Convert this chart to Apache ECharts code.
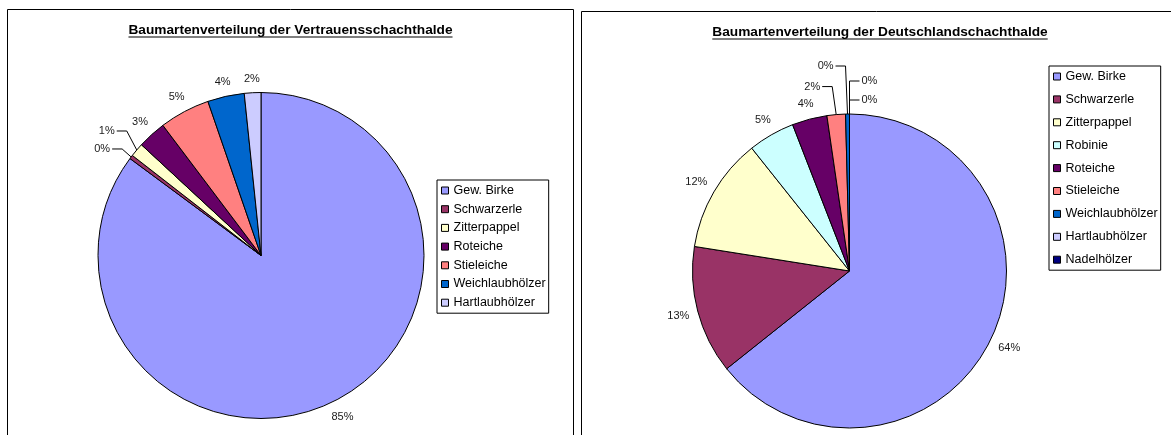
<!DOCTYPE html>
<html>
<head>
<meta charset="utf-8">
<script src="https://cdn.jsdelivr.net/npm/echarts@6/dist/echarts.min.js"></script>
<style>
  html, body { margin: 0; padding: 0; background: #fff; }
  #chart { width: 1171px; height: 435px; }
</style>
</head>
<body>
<div id="chart"></div>
<script>
// data (shares in %)
const leftTitle = 'Baumartenverteilung der Vertrauensschachthalde';
const leftNames = ['Gew. Birke', 'Schwarzerle', 'Zitterpappel', 'Roteiche', 'Stieleiche', 'Weichlaubhölzer', 'Hartlaubhölzer'];
const leftValues = [85.14, 0.38, 1.37, 2.83, 5.0, 3.64, 1.64];

const rightTitle = 'Baumartenverteilung der Deutschlandschachthalde';
const rightNames = ['Gew. Birke', 'Schwarzerle', 'Zitterpappel', 'Robinie', 'Roteiche', 'Stieleiche', 'Weichlaubhölzer', 'Hartlaubhölzer', 'Nadelhölzer'];
const rightValues = [64.3, 13.2, 11.8, 4.8, 3.6, 1.9, 0.4, 0, 0];

// excel 2003 palette
const speciesColors = {
  'Gew. Birke': '#9999FF',
  'Schwarzerle': '#993366',
  'Zitterpappel': '#FFFFCC',
  'Robinie': '#CCFFFF',
  'Roteiche': '#660066',
  'Stieleiche': '#FF8080',
  'Weichlaubhölzer': '#0066CC',
  'Hartlaubhölzer': '#CCCCFF',
  'Nadelhölzer': '#000080'
};

const FONT = 'Liberation Sans, Arial, sans-serif';

// labels that excel had pulled away with a leader line: index -> [dx, dy, side]
const leftPulls = { 1: [-9, -8, 'left'], 2: [-10, -19, 'left'] };
const rightPulls = { 5: [-4, -28, 'left'], 6: [-2, -48, 'left'], 7: [0, -33, 'right'], 8: [0, -14, 'right'] };

const leftPie = { cx: 261, cy: 255.5, r: 163 };
const rightPie = { cx: 849.5, cy: 271, r: 157 };

function makeLabelLayout(values, pie, pulls) {
  const total = values.reduce((a, b) => a + b, 0);
  return function (params) {
    const i = params.dataIndex;
    let before = 0;
    for (let k = 0; k < i; k++) before += values[k];
    const theta = 2 * Math.PI * (before + values[i] / 2) / total;
    const s = Math.sin(theta), c = Math.cos(theta);
    const ax = pie.cx + pie.r * s, ay = pie.cy - pie.r * c;
    const pull = pulls[i];
    if (pull) {
      const ex = ax + pull[0], ey = ay + pull[1];
      const dir = pull[2] === 'left' ? -1 : 1;
      const hx = ex + dir * 10;
      return {
        x: hx + dir * 2, y: ey,
        align: dir < 0 ? 'right' : 'left', verticalAlign: 'middle',
        labelLinePoints: [[ax, ay], [ex, ey], [hx, ey]]
      };
    }
    const w = params.labelRect.width, h = params.labelRect.height;
    const d = pie.r + 8 + Math.abs(s) * w / 2 + Math.abs(c) * h / 2;
    return { x: pie.cx + d * s, y: pie.cy - d * c, align: 'center', verticalAlign: 'middle' };
  };
}

function buildData(names, values, pulls) {
  return names.map((n, i) => ({
    name: n,
    value: values[i],
    itemStyle: { color: speciesColors[n] },
    labelLine: { show: !!pulls[i] }
  }));
}

function pieSeries(names, values, pie, pulls) {
  return {
    type: 'pie',
    center: [pie.cx, pie.cy],
    radius: pie.r,
    startAngle: 90,
    clockwise: true,
    avoidLabelOverlap: false,
    silent: true,
    animation: false,
    itemStyle: { borderColor: '#000', borderWidth: 1 },
    label: {
      show: true,
      position: 'outside',
      fontFamily: FONT,
      fontSize: 11,
      color: '#1a1a1a',
      formatter: p => Math.round(p.percent) + '%'
    },
    labelLine: { show: false, lineStyle: { color: '#000', width: 1 } },
    labelLayout: makeLabelLayout(values, pie, pulls),
    data: buildData(names, values, pulls)
  };
}

function textWidth(text, font) {
  const ctx = document.createElement('canvas').getContext('2d');
  ctx.font = font;
  return ctx.measureText(text).width;
}

const titleFont = 'bold 13.7px ' + FONT;
function titleGraphics(text, x, y, underlineY) {
  const w = textWidth(text, titleFont);
  return [
    { type: 'text', style: { x: x, y: y, text: text, font: titleFont, fill: '#000', textAlign: 'center', textVerticalAlign: 'middle' } },
    { type: 'line', shape: { x1: x - w / 2, y1: underlineY, x2: x + w / 2, y2: underlineY }, style: { stroke: '#000', lineWidth: 1.2 } }
  ];
}

const legendBase = {
  orient: 'vertical',
  icon: 'rect',
  itemWidth: 7,
  itemHeight: 7,
  itemStyle: { borderColor: '#000', borderWidth: 1 },
  textStyle: { fontFamily: FONT, fontSize: 12.5, color: '#000' },
  borderColor: '#000',
  borderWidth: 1,
  padding: [4, 3, 4, 4],
  selectedMode: false
};

const chart = echarts.init(document.getElementById('chart'), null, { renderer: 'canvas' });
chart.setOption({
  animation: false,
  backgroundColor: '#fff',
  graphic: [
    { type: 'rect', shape: { x: 7.5, y: 9.5, width: 566, height: 500 }, style: { fill: 'none', stroke: '#000', lineWidth: 1 } },
    { type: 'rect', shape: { x: 581.5, y: 11.5, width: 620, height: 500 }, style: { fill: 'none', stroke: '#000', lineWidth: 1 } }
  ].concat(titleGraphics(leftTitle, 290.5, 30.5, 37))
   .concat(titleGraphics(rightTitle, 880, 32.5, 39)),
  legend: [
    Object.assign({}, legendBase, { data: leftNames, left: 437, top: 180, itemGap: 5.7 }),
    Object.assign({}, legendBase, { data: rightNames, left: 1049, top: 66, itemGap: 9.9 })
  ],
  series: [
    pieSeries(leftNames, leftValues, leftPie, leftPulls),
    pieSeries(rightNames, rightValues, rightPie, rightPulls)
  ]
});
</script>
</body>
</html>
